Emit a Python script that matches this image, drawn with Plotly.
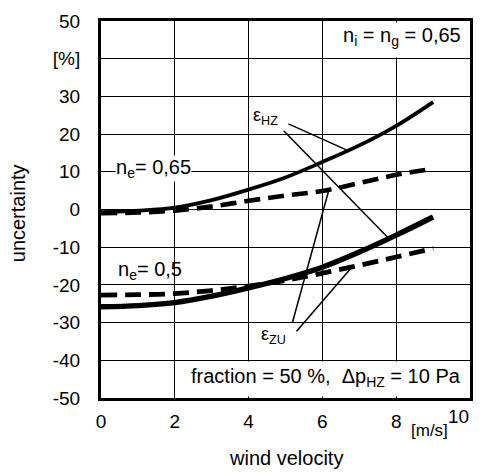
import plotly.graph_objects as go

# data
wind = [0, 1, 2, 3, 4, 5, 6, 7, 8, 9]
hz_065 = [-0.7, -0.3, 0.5, 2.5, 5.3, 8.5, 12.6, 17.0, 22.2, 28.5]
zu_065 = [-1.0, -0.8, -0.3, 0.8, 2.3, 3.7, 4.9, 7.0, 9.2, 10.8]
hz_050 = [-25.8, -25.5, -24.7, -23.0, -20.8, -18.3, -15.3, -11.3, -6.8, -2.0]
zu_050 = [-22.7, -22.6, -22.3, -21.5, -20.3, -18.8, -16.9, -14.8, -12.6, -10.3]

x_ticks = [0, 2, 4, 6, 8]
y_ticks = [50, 40, 30, 20, 10, 0, -10, -20, -30, -40, -50]
y_ticktext = ["50", "[%]", "30", "20", "10", "0", "-10", "-20", "-30", "-40", "-50"]

FONT = "Liberation Sans, Arial, sans-serif"

fig = go.Figure()
fig.add_trace(go.Scatter(x=wind, y=hz_065, mode="lines", line=dict(color="black", width=3.8, shape="spline")))
fig.add_trace(go.Scatter(x=wind, y=zu_065, mode="lines", line=dict(color="black", width=4.6, dash="16px,8px", shape="spline")))
fig.add_trace(go.Scatter(x=wind, y=hz_050, mode="lines", line=dict(color="black", width=5.4, shape="spline")))
fig.add_trace(go.Scatter(x=wind, y=zu_050, mode="lines", line=dict(color="black", width=4.8, dash="16px,8px", shape="spline")))

shapes = []
# white boxes covering gridlines behind the texts
shapes.append(dict(type="rect", xref="x", yref="y", x0=6.35, x1=9.94, y0=40.3, y1=49.6,
                   fillcolor="white", line=dict(width=0), layer="above"))
shapes.append(dict(type="rect", xref="x", yref="y", x0=2.1, x1=9.94, y0=-49.6, y1=-40.3,
                   fillcolor="white", line=dict(width=0), layer="above"))
# leader lines
leaders = [
    (5.08, 22.7, 6.65, 15.8),
    (4.95, 20.9, 7.76, -7.3),
    (5.19, -29.9, 6.16, 4.65),
    (5.30, -32.3, 6.78, -15.5),
]
for x0, y0, x1, y1 in leaders:
    shapes.append(dict(type="line", xref="x", yref="y", x0=x0, y0=y0, x1=x1, y1=y1,
                       line=dict(color="black", width=1.5), layer="above"))

annots = [
    dict(x=1.41, y=10.8, text="n<sub>e</sub>= 0,65", bgcolor="white"),
    dict(x=1.33, y=-16.3, text="n<sub>e</sub>= 0,5"),
    dict(x=4.46, y=24.8, text="ε<sub>HZ</sub>", size=18),
    dict(x=4.68, y=-33.4, text="ε<sub>ZU</sub>", size=18),
    dict(x=9.78, y=45.8, text="n<sub>i</sub> = n<sub>g</sub> = 0,65", xanchor="right"),
    dict(x=9.78, y=-44.6, text="fraction = 50 %,  Δp<sub>HZ</sub> = 10 Pa", xanchor="right"),
]
ann_list = []
for a in annots:
    ann_list.append(dict(x=a["x"], y=a["y"], xref="x", yref="y", text=a["text"], showarrow=False,
                         xanchor=a.get("xanchor", "center"), yanchor="middle",
                         bgcolor=a.get("bgcolor", "rgba(0,0,0,0)"), borderpad=0,
                         font=dict(family=FONT, size=a.get("size", 20), color="black")))
# axis extras
ann_list.append(dict(x=8.9, y=-0.085, xref="x", yref="paper", text="[m/s]", showarrow=False,
                     font=dict(family=FONT, size=17, color="black"), yanchor="middle"))
ann_list.append(dict(x=9.7, y=-0.05, xref="x", yref="paper", text="10", showarrow=False,
                     font=dict(family=FONT, size=19, color="black"), yanchor="middle"))
ann_list.append(dict(x=0.5, y=-0.16, xref="paper", yref="paper", text="wind velocity", showarrow=False,
                     font=dict(family=FONT, size=20, color="black"), yanchor="middle"))
ann_list.append(dict(x=-0.225, y=0.49, xref="paper", yref="paper", text="uncertainty", showarrow=False,
                     textangle=-90, font=dict(family=FONT, size=20, color="black"),
                     xanchor="center", yanchor="middle"))

# the page body has an 8px margin, so the figure is drawn 8px smaller and offset
fig.update_layout(
    width=474, height=465,
    margin=dict(l=93, r=12, t=13, b=75, autoexpand=False),
    paper_bgcolor="white", plot_bgcolor="white",
    showlegend=False,
    shapes=shapes, annotations=ann_list,
    font=dict(family=FONT, size=19, color="black"),
    xaxis=dict(range=[0, 10], tickvals=x_ticks, ticks="", showgrid=True, gridcolor="black", gridwidth=1.3,
               zeroline=False, showline=True, mirror=True, linecolor="black", linewidth=3,
               automargin=False, ticklabelstandoff=4, tickfont=dict(family=FONT, size=19, color="black")),
    yaxis=dict(range=[-50, 50], tickvals=y_ticks, ticktext=y_ticktext, ticks="", showgrid=True,
               gridcolor="black", gridwidth=1.3, zeroline=False, showline=True, mirror=True,
               linecolor="black", linewidth=3, automargin=False, ticklabelstandoff=14,
               tickfont=dict(family=FONT, size=19, color="black")),
)

fig.write_html("out.html")
